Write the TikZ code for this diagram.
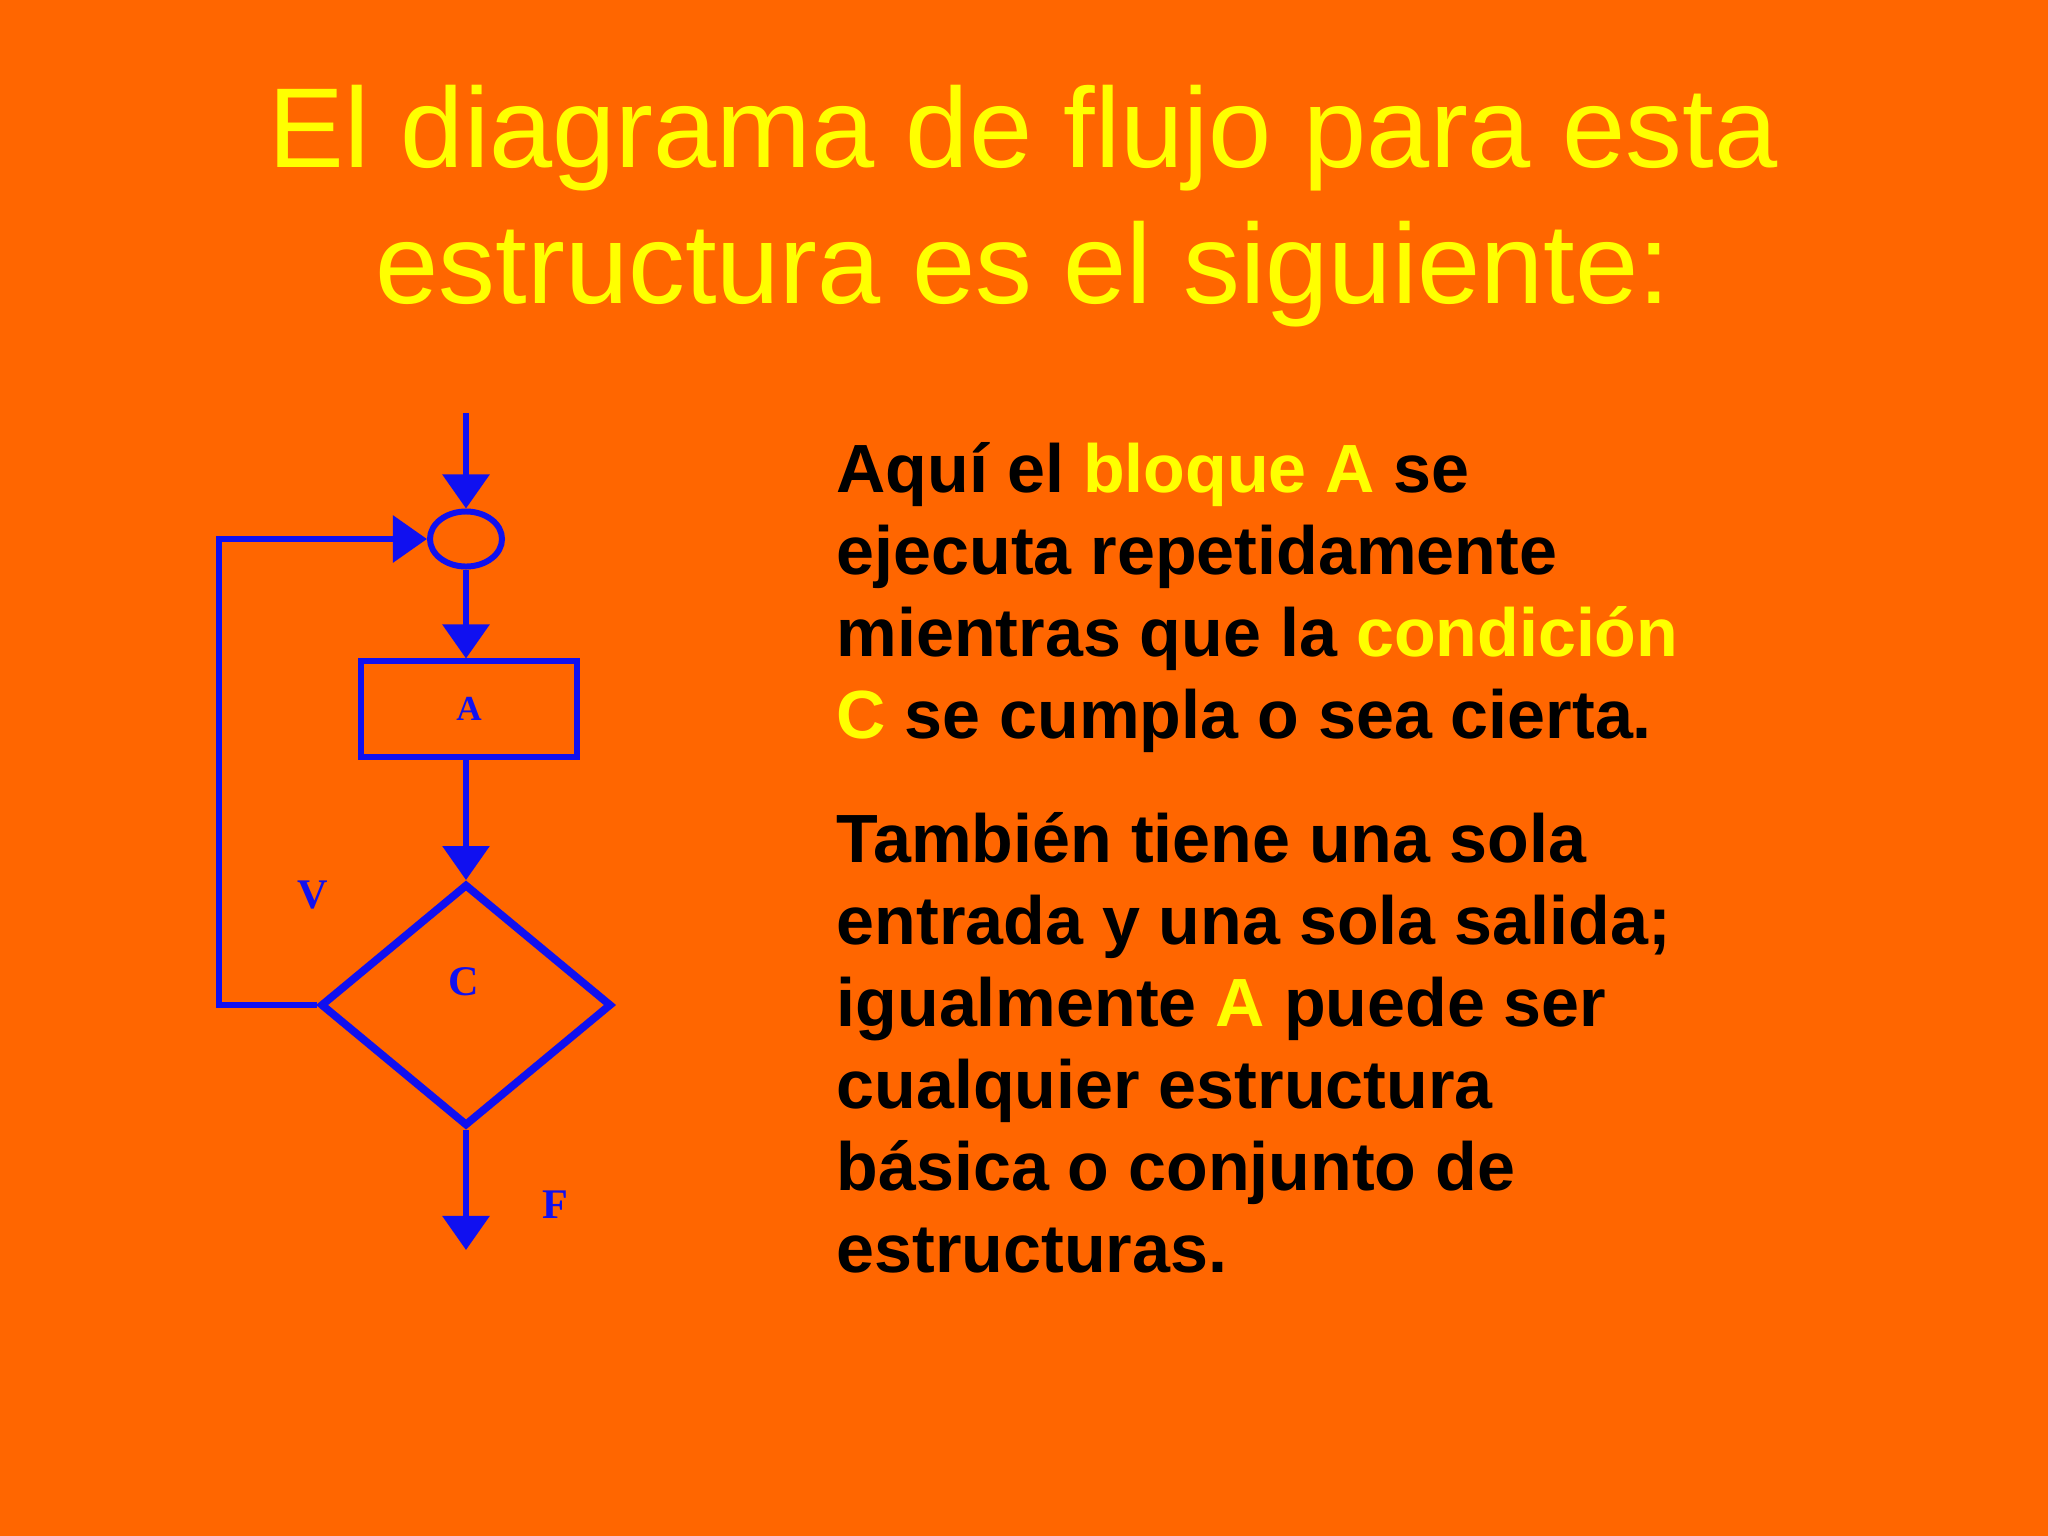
\documentclass[tikz,border=0pt]{standalone}
\usepackage{fontspec}
\setmainfont{Liberation Sans}
\newfontfamily\chartfont{Liberation Serif}
\usepackage{tikz}
\usetikzlibrary{arrows.meta}
\usetikzlibrary{shapes.geometric}
\definecolor{slidebg}{HTML}{FF6600}
\definecolor{slidetitle}{HTML}{FFFF00}
\definecolor{chartblue}{HTML}{1010F0}
\newcommand{\hl}[1]{\textcolor{slidetitle}{#1}}

\begin{document}
\begin{tikzpicture}[x=0.01cm,y=-0.01cm,
    flow/.style={draw=chartblue, line width=1.7pt, -{Triangle[width=0.46cm,length=0.34cm]}},
    joint/.style={ellipse, draw=chartblue, line width=1.7pt, minimum width=0.72cm, minimum height=0.55cm, inner sep=0pt},
    block/.style={rectangle, draw=chartblue, line width=1.7pt, minimum width=2.15cm, minimum height=0.95cm, inner sep=0pt},
    decision/.style={diamond, draw=chartblue, line width=2.2pt, minimum width=2.91cm, minimum height=2.42cm, inner sep=0pt},
    chartlabel/.style={text=chartblue, font=\chartfont\bfseries\fontsize{12pt}{13pt}\selectfont},
    body/.style={anchor=base west, inner sep=0pt, font=\bfseries\fontsize{19.4pt}{23pt}\selectfont}]
    \fill[slidebg] (0,0) rectangle (2048,1536);  %Hintergrund
    \useasboundingbox (0,0) rectangle (2048,1536);
    % Titel
    \foreach \y/\txt in {167/El diagrama de flujo para esta, 303/estructura es el siguiente:}
    {
      \node[anchor=base, inner sep=0pt, text=slidetitle, font=\fontsize{32.3pt}{37pt}\selectfont] (title\y) at (1023,\y) {\txt};
    }
    % Flussdiagramm
    \coordinate (entry) at (466,413);
    \node[joint] (join) at (466,539) {};
    \node[block] (blockA) at (469,709) {};
    \node[chartlabel, font=\chartfont\bfseries\fontsize{10pt}{11pt}\selectfont] (labelA) at (blockA) {A};
    \node[decision] (cond) at (466,1005) {};
    \node[chartlabel] (labelC) at (464,982) {C};
    \node[chartlabel] (labelV) at (313,895) {V};
    \node[chartlabel] (labelF) at (555,1205) {F};
    \coordinate (exit) at (466,1250);
    \coordinate (back) at (219,1005);
    \draw[flow] (entry) -- (join);
    \draw[flow] (join) -- (join |- blockA.north);
    \draw[flow] (blockA.south -| join) -- (cond);
    \draw[flow] (cond) -- (exit);
    \draw[flow] (cond.west) -- (back) |- (join);  %Schleife
    % Text
    \foreach \y/\txt in
    {
      492/{Aquí el \hl{bloque A} se},
      574/{ejecuta repetidamente},
      656/{mientras que la \hl{condición}},
      738/{\hl{C} se cumpla o sea cierta.},
      862/{También tiene una sola},
      944/{entrada y una sola salida;},
      1026/{igualmente \hl{A} puede ser},
      1108/{cualquier estructura},
      1190/{básica o conjunto de},
      1272/{estructuras.}
    }
    {
      \node[body] (line\y) at (836,\y) {\txt};
    }
\end{tikzpicture}
\end{document}
